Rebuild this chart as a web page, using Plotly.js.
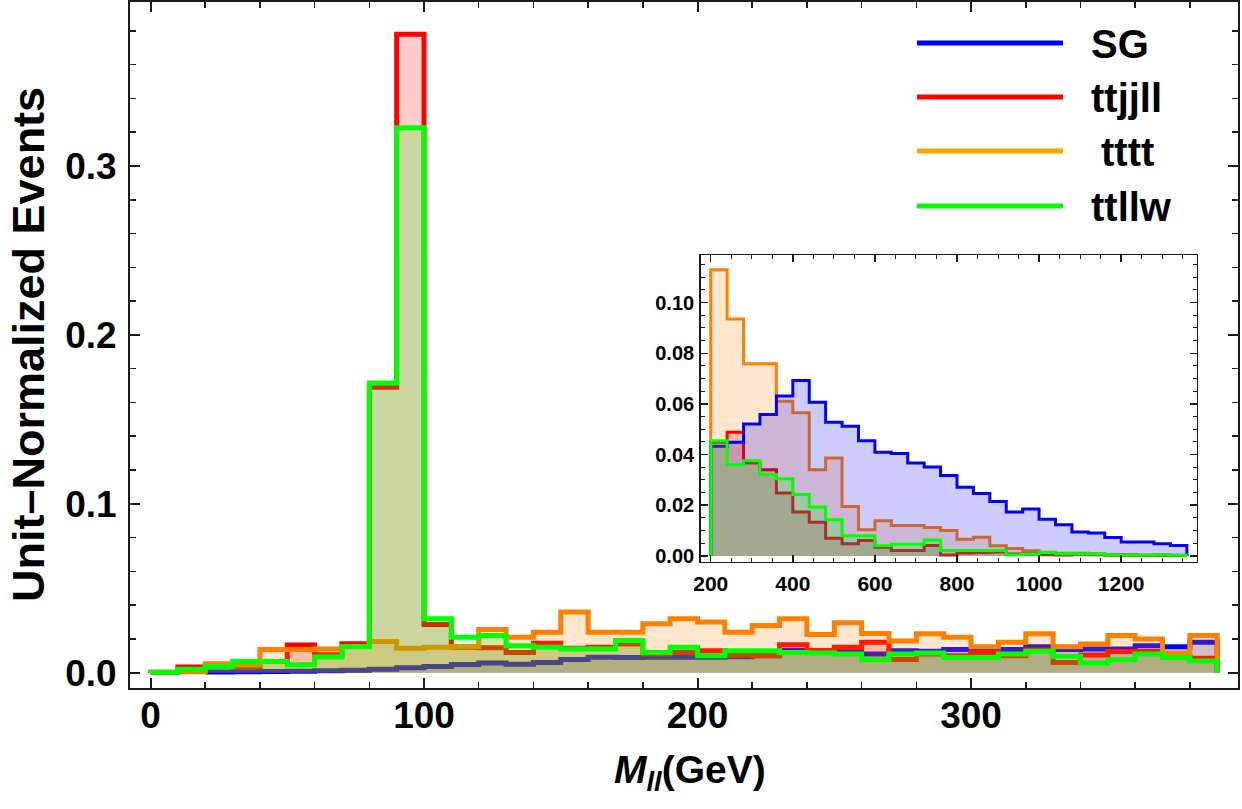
<!DOCTYPE html>
<html>
<head>
<meta charset="utf-8">
<script src="https://cdn.plot.ly/plotly-3.0.1.min.js"></script>
<style>
  html, body { margin: 0; padding: 0; background: #fff; }
  #chart { width: 1242px; height: 809px; }
</style>
</head>
<body>
<div id="chart"></div>
<script>
// ---- Dilepton invariant mass, 10 GeV bins from 0 to 390 GeV ----
const mainStart = 0;
const mainBinWidth = 10;
const mainSG = [0, 0, 0.0004, 0.0005, 0.0007, 0.0008, 0.0011, 0.0014, 0.002, 0.003,
  0.0036, 0.0048, 0.0058, 0.005, 0.006, 0.0078, 0.0092, 0.009, 0.0092, 0.0092,
  0.0092, 0.0095, 0.010, 0.0132, 0.013, 0.0127, 0.011, 0.013, 0.0127, 0.0137,
  0.0127, 0.0137, 0.0153, 0.0137, 0.014, 0.014, 0.016, 0.0153, 0.018];
const mainTtjjll = [0.0003, 0.0033, 0.0045, 0.0035, 0.0067, 0.0164, 0.0107, 0.0172, 0.169, 0.378,
  0.0286, 0.015, 0.0148, 0.012, 0.0175, 0.0145, 0.015, 0.017, 0.011, 0.012,
  0.013, 0.0105, 0.010, 0.0165, 0.013, 0.0151, 0.018, 0.0078, 0.011, 0.010,
  0.012, 0.010, 0.0135, 0.006, 0.0105, 0.0125, 0.0125, 0.0095, 0.0085];
const mainTttt = [0, 0.0005, 0.0053, 0.0045, 0.0137, 0.0137, 0.0141, 0.0155, 0.0185, 0.0145,
  0.015, 0.0155, 0.0256, 0.021, 0.024, 0.036, 0.024, 0.024, 0.029, 0.032,
  0.030, 0.024, 0.028, 0.032, 0.0226, 0.0296, 0.0232, 0.0187, 0.023, 0.021,
  0.0153, 0.018, 0.023, 0.0153, 0.017, 0.022, 0.020, 0.0117, 0.022];
const mainTtllw = [0.0003, 0.0021, 0.0037, 0.0067, 0.0067, 0.0047, 0.0093, 0.0153, 0.1715, 0.3226,
  0.032, 0.021, 0.022, 0.016, 0.015, 0.014, 0.014, 0.019, 0.012, 0.015,
  0.010, 0.013, 0.013, 0.012, 0.0117, 0.0111, 0.0077, 0.011, 0.0117, 0.009,
  0.009, 0.011, 0.0127, 0.0097, 0.0057, 0.0077, 0.011, 0.009, 0.007];

// ---- High-mass tail, 40 GeV bins from 200 to 1360 GeV ----
const insetStart = 200;
const insetBinWidth = 40;
const insetSG = [0.0433, 0.0449, 0.0521, 0.0558, 0.0631, 0.0693, 0.0607, 0.0528, 0.0512, 0.0455,
  0.0409, 0.0404, 0.0367, 0.0351, 0.0317, 0.0271, 0.0246, 0.0215, 0.0173, 0.0185,
  0.0145, 0.0123, 0.0094, 0.0090, 0.0073, 0.0055, 0.0055, 0.0048, 0.0041];
const insetTtjjll = [0.0449, 0.0488, 0.0367, 0.034, 0.0248, 0.0173, 0.0133, 0.007, 0.0048, 0.0061,
  0.0034, 0.0021, 0.0021, 0.0041, 0.0003, 0.0011, 0.0013, 0.0015, 0.0007, 0.0008,
  0.0004, 0.0003, 0.0006, 0.0004, 0.0002, 0.0002, 0.0001, 0.0002, 0.0001];
const insetTttt = [0.113, 0.0935, 0.0759, 0.0759, 0.0611, 0.0565, 0.034, 0.0387, 0.0195, 0.0103,
  0.0139, 0.012, 0.012, 0.0112, 0.0100, 0.0066, 0.0074, 0.0040, 0.0029, 0.0020,
  0.0014, 0.0010, 0.0010, 0.0008, 0.0004, 0.0004, 0.0003, 0.0003, 0.0002];
const insetTtllw = [0.0455, 0.036, 0.0376, 0.0321, 0.0305, 0.0242, 0.0193, 0.0143, 0.0079, 0.0079,
  0.004, 0.0046, 0.0046, 0.0063, 0.0021, 0.0021, 0.0021, 0.0021, 0.0004, 0.0007,
  0.0013, 0.0008, 0.0008, 0.0007, 0.0003, 0.0003, 0.0002, 0.0004, 0.0002];

// ---- Legend ----
const seriesNames = ['SG', 'ttjjll', 'tttt', 'ttllw'];
const legendColors = ['#0000ff', '#ff0000', '#ffa500', '#00ff00'];

const COLORS = {
  SG: ['#0000ff', 'rgba(0,0,255,0.2)'],
  ttjjll: ['#ff0000', 'rgba(255,0,0,0.2)'],
  tttt: ['#ff8000', 'rgba(255,128,0,0.2)'],
  ttllw: ['#00ff00', 'rgba(0,255,0,0.2)']
};

const FONT = 'Liberation Sans, Arial, Helvetica, sans-serif';

// Outline of a histogram as a step path closed down to zero at both ends;
// empty leading bins are skipped.
function histTrace(start, width, values, key, xa, ya, lw) {
  let first = 0;
  while (first < values.length - 1 && values[first] === 0) first++;
  const x0 = start + first * width;
  const xs = [x0], ys = [0];
  for (let i = first; i < values.length; i++) {
    xs.push(start + i * width);
    ys.push(values[i]);
  }
  const xEnd = start + values.length * width;
  xs.push(xEnd); ys.push(values[values.length - 1]);
  xs.push(xEnd); ys.push(0);
  return {
    type: 'scatter', mode: 'lines', x: xs, y: ys, xaxis: xa, yaxis: ya,
    line: { color: COLORS[key][0], width: lw, shape: 'hv' },
    fill: 'tozeroy', fillcolor: COLORS[key][1],
    hoverinfo: 'skip', showlegend: false
  };
}

const traces = [
  histTrace(mainStart, mainBinWidth, mainSG, 'SG', 'x', 'y', 5),
  histTrace(mainStart, mainBinWidth, mainTtjjll, 'ttjjll', 'x', 'y', 5),
  histTrace(mainStart, mainBinWidth, mainTttt, 'tttt', 'x', 'y', 5),
  histTrace(mainStart, mainBinWidth, mainTtllw, 'ttllw', 'x', 'y', 5),
  histTrace(insetStart, insetBinWidth, insetTttt, 'tttt', 'x2', 'y2', 3),
  histTrace(insetStart, insetBinWidth, insetTtjjll, 'ttjjll', 'x2', 'y2', 3),
  histTrace(insetStart, insetBinWidth, insetSG, 'SG', 'x2', 'y2', 3),
  histTrace(insetStart, insetBinWidth, insetTtllw, 'ttllw', 'x2', 'y2', 3)
];

const W = 1242, H = 809;
const px = v => v / W;
const py = v => (H - v) / H;

function frameAxis(extra) {
  return Object.assign({
    showline: true, linecolor: '#1a1a1a', linewidth: 2, mirror: 'allticks',
    ticks: 'inside', tickcolor: '#1a1a1a', tickwidth: 2,
    showgrid: false, zeroline: false, tickmode: 'linear', fixedrange: true
  }, extra);
}

const layout = {
  width: W, height: H,
  margin: { l: 0, r: 0, t: 0, b: 0 },
  paper_bgcolor: '#ffffff', plot_bgcolor: 'rgba(0,0,0,0)',
  showlegend: false,
  font: { family: FONT, color: '#000' },
  xaxis: frameAxis({
    domain: [px(130), px(1238)], range: [-7.5, 397.6], anchor: 'y',
    tick0: 0, dtick: 100, ticklen: 10,
    minor: { tick0: 0, dtick: 20, ticks: 'inside', ticklen: 6, tickwidth: 1.5, tickcolor: '#1a1a1a', showgrid: false },
    tickfont: { family: FONT, size: 37, weight: 700, color: '#000' },
    ticklabelstandoff: -6
  }),
  yaxis: frameAxis({
    domain: [py(688), py(1.5)], range: [-0.00906, 0.3974], anchor: 'x',
    tick0: 0, dtick: 0.1, tickformat: '.1f', ticklen: 10,
    minor: { tick0: 0, dtick: 0.02, ticks: 'inside', ticklen: 6, tickwidth: 1.5, tickcolor: '#1a1a1a', showgrid: false },
    tickfont: { family: FONT, size: 37, weight: 700, color: '#000' },
    ticklabelstandoff: 4
  }),
  xaxis2: frameAxis({
    domain: [px(700.7), px(1196.7)], range: [175.6, 1384], anchor: 'y2',
    tick0: 0, dtick: 200, ticklen: 7, tickwidth: 1.5, linewidth: 1.5,
    minor: { tick0: 0, dtick: 50, ticks: 'inside', ticklen: 4, tickwidth: 1, tickcolor: '#1a1a1a', showgrid: false },
    tickfont: { family: FONT, size: 21, weight: 700, color: '#000' },
    ticklabelstandoff: 3
  }),
  yaxis2: frameAxis({
    domain: [py(561.7), py(255.3)], range: [-0.0023, 0.1187], anchor: 'x2',
    tick0: 0, dtick: 0.02, tickformat: '.2f', ticklen: 7, tickwidth: 1.5, linewidth: 1.5,
    minor: { tick0: 0, dtick: 0.005, ticks: 'inside', ticklen: 4, tickwidth: 1, tickcolor: '#1a1a1a', showgrid: false },
    tickfont: { family: FONT, size: 20, weight: 700, color: '#000' },
    ticklabelstandoff: 1
  }),
  shapes: [],
  annotations: [
    {
      text: '<b>Unit\u2013Normalized Events</b>', textangle: -90,
      xref: 'paper', yref: 'paper', x: px(28), y: py(345),
      xanchor: 'center', yanchor: 'middle', showarrow: false,
      font: { family: FONT, size: 45, color: '#000' }
    },
    {
      text: '<b><i>M</i><sub><i>ll</i></sub>(GeV)</b>',
      xref: 'paper', yref: 'paper', x: px(690), y: py(772),
      xanchor: 'center', yanchor: 'middle', showarrow: false,
      font: { family: FONT, size: 39, color: '#000' }
    }
  ]
};

// Legend: coloured line samples with bold labels in the upper right
const legendRowsY = [43, 97, 151, 206];
const legendLabelX = [1089, 1089, 1099, 1089];
seriesNames.forEach((name, i) => {
  layout.shapes.push({
    type: 'line', xref: 'paper', yref: 'paper',
    x0: px(917), x1: px(1063), y0: py(legendRowsY[i]), y1: py(legendRowsY[i]),
    line: { color: legendColors[i], width: 5 }
  });
  layout.annotations.push({
    text: '<b>' + name + '</b>', xref: 'paper', yref: 'paper',
    x: px(legendLabelX[i]), y: py(legendRowsY[i] + 1),
    xanchor: 'left', yanchor: 'middle', showarrow: false,
    font: { family: FONT, size: 40, color: '#000' }
  });
});

Plotly.newPlot('chart', traces, layout, { displayModeBar: false, staticPlot: true });
</script>
</body>
</html>
